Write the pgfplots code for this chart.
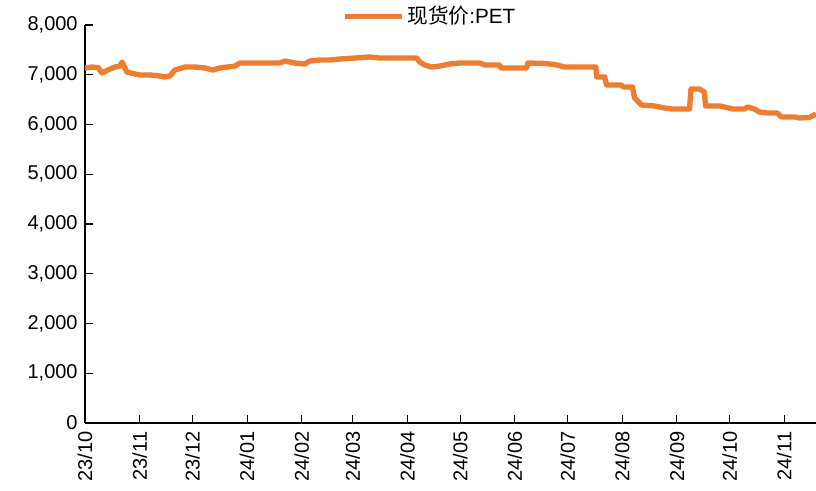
\documentclass[border=0pt]{standalone}
\usepackage{pgfplots}
\pgfplotsset{compat=1.18}
\usepackage{fontspec}
\setmainfont{Liberation Sans}
\newfontfamily\cjk{Noto Sans CJK SC}
\definecolor{pet}{HTML}{ED7D31}
\begin{document}
\begin{tikzpicture}
\path[use as bounding box] (-63.75pt,-50.25pt) rectangle (548.25pt,317.25pt);
\begin{axis}[
  at={(0,0)}, anchor=south west,
  scale only axis, width=548.25pt, height=298.5pt,
  xmin=0, xmax=415, ymin=0, ymax=8000,
  axis x line=bottom, axis y line=left,
  axis line style={-, line width=1pt, black},
  tick style={black, line width=0.8pt},
  major tick length=6pt,
  tick align=inside,
  xtick={0,31,61,92,123,152,183,213,244,274,305,336,366,397},
  xticklabels={23/10,23/11,23/12,24/01,24/02,24/03,24/04,24/05,24/06,24/07,24/08,24/09,24/10,24/11},
  x tick label style={rotate=90, anchor=east, xshift=-3pt, font=\fontsize{15}{17}\selectfont},
  ytick={0,1000,...,8000},
  y tick label style={xshift=-2pt, font=\fontsize{15}{17}\selectfont},
  /pgf/number format/.cd, 1000 sep={,}, assume math mode=true,
  /pgfplots/.cd,
  clip=true,
  legend style={at={(0.472,1.022)}, anchor=center, draw=none, fill=none,
    font=\fontsize{15.5}{17}\selectfont, legend columns=1},
  legend image code/.code={\draw[#1, line width=4pt] (0pt,0pt) -- (43pt,0pt);},
]
\addplot[color=pet, line width=4pt, line join=round] coordinates {
(0,7136) (4,7155) (7.4,7145) (9.6,7035) (13,7095) (17,7155) (19.9,7175) (21,7256) (22.1,7175) (23.8,7055)
(28.4,7015) (31.2,6995) (36.9,6995) (42.5,6975) (44.8,6955) (48.2,6975) (51,7095) (56.7,7155)
(62.4,7155) (68.1,7136) (72.6,7095) (76.6,7136) (85.1,7175) (87.9,7236) (93.6,7236) (110.6,7236)
(113.4,7276) (116.3,7256) (119.1,7236) (124.8,7216) (127.6,7276) (133.3,7296) (139,7296) (144.6,7316)
(153.1,7336) (161.7,7357) (167.3,7336) (178.7,7336) (188.3,7336) (190,7256) (192.9,7196) (196.8,7155)
(201.4,7175) (207,7216) (212.7,7236) (224,7236) (226.9,7196) (235.4,7196) (236,7136) (250.7,7136)
(251.5,7236) (260.9,7226) (266.6,7206) (272.3,7155) (283.6,7155) (290,7155) (290.5,6955) (295,6955)
(296.1,6794) (304.6,6794) (305.5,6754) (310.8,6754) (312,6533) (315.9,6392) (323.3,6372) (329,6332)
(333,6312) (343.2,6312) (344,6714) (348.8,6714) (351.6,6653) (352.3,6372) (360.2,6372) (363,6352)
(367.6,6312) (374.4,6312) (376.1,6352) (380,6312) (382.9,6251) (387.4,6231) (393.1,6231) (395.3,6151)
(402.7,6151) (405.6,6131) (411.2,6141) (415,6211)
};
\addlegendentry{{\cjk 现货价}:PET}
\end{axis}
\end{tikzpicture}
\end{document}
